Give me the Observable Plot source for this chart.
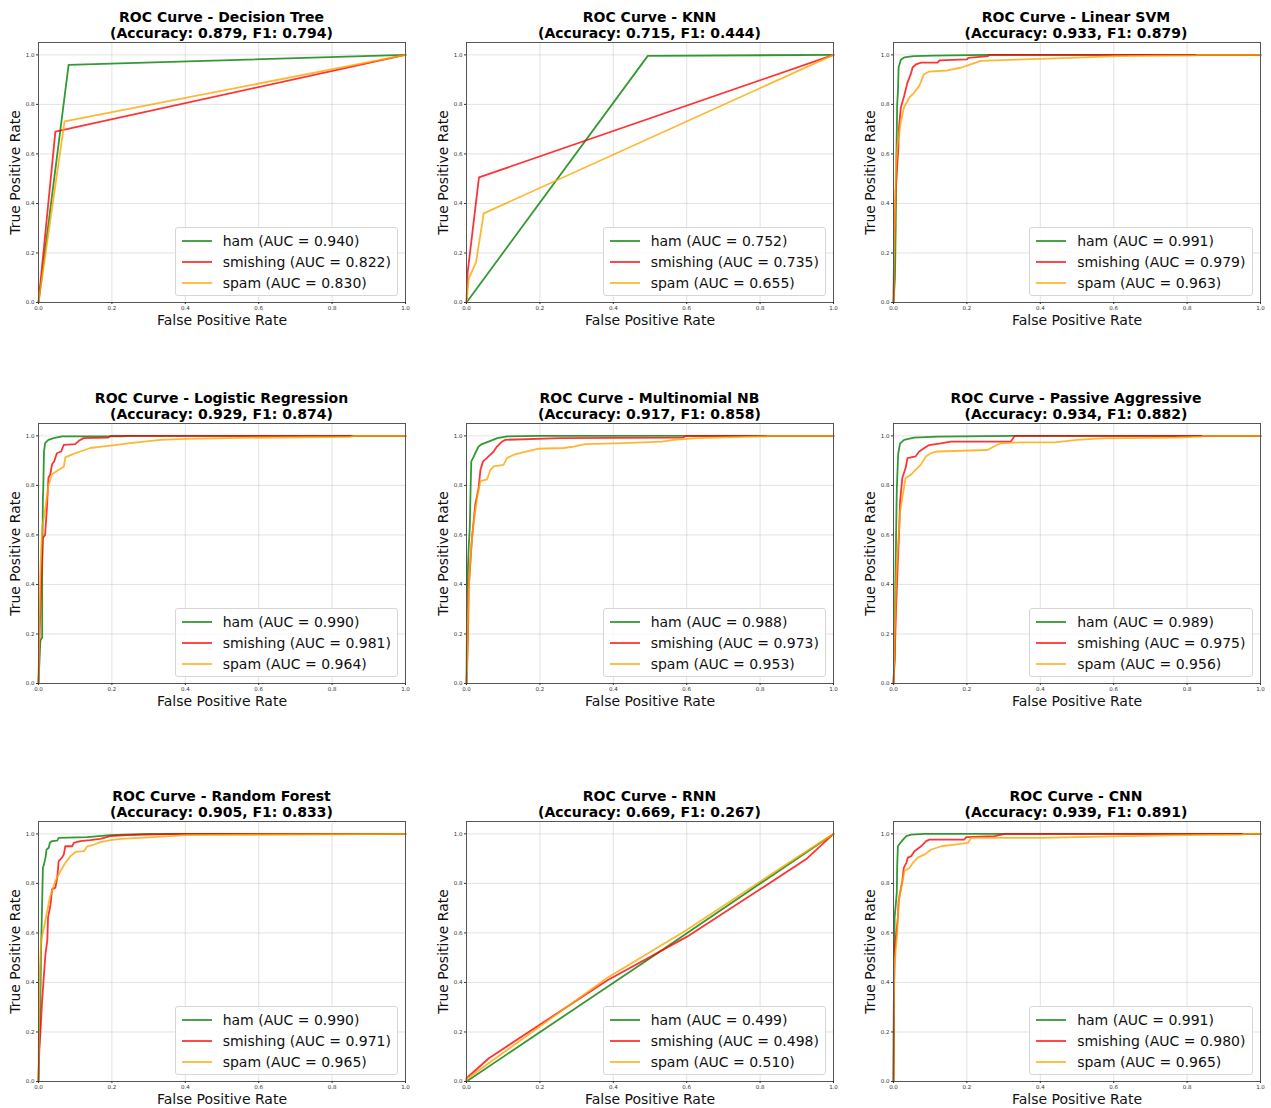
<!DOCTYPE html>
<html>
<head>
<meta charset="utf-8">
<script src="https://cdn.jsdelivr.net/npm/d3@7"></script>
<script src="https://cdn.jsdelivr.net/npm/@observablehq/plot@0.6"></script>
<style>
  html, body { margin: 0; padding: 0; background: #fff; overflow: hidden; }
  #root { position: relative; width: 1271px; height: 1108px; background: #fff; font-family: "DejaVu Sans", sans-serif; }
  .panel { position: absolute; }
  .title { position: absolute; text-align: center; font-weight: bold; font-size: 14px; line-height: 16px; color: #000; white-space: nowrap; }
  .legend { position: absolute; border: 1px solid #d6d6d6; border-radius: 3px; background: rgba(255,255,255,0.85); padding: 2px 6px 2px 6px; }
  .legend .row { display: flex; align-items: center; height: 21px; font-size: 14px; color: #111; white-space: nowrap; }
  .legend svg { margin-right: 11px; }
</style>
</head>
<body>
<div id="root"></div>
<script>
// ---------- data ----------
const models = ["Decision Tree", "KNN", "Linear SVM", "Logistic Regression", "Multinomial NB", "Passive Aggressive", "Random Forest", "RNN", "CNN"];
const accuracy = [0.879, 0.715, 0.933, 0.929, 0.917, 0.934, 0.905, 0.669, 0.939];
const f1 = [0.794, 0.444, 0.879, 0.874, 0.858, 0.882, 0.833, 0.267, 0.891];
const classes = ["ham", "smishing", "spam"];
const aucHam = [0.940, 0.752, 0.991, 0.990, 0.988, 0.989, 0.990, 0.499, 0.991];
const aucSmishing = [0.822, 0.735, 0.979, 0.981, 0.973, 0.975, 0.971, 0.498, 0.980];
const aucSpam = [0.830, 0.655, 0.963, 0.964, 0.953, 0.956, 0.965, 0.510, 0.965];
const tickValues = [0, 0.2, 0.4, 0.6, 0.8, 1.0];

// ROC points [fpr, tpr]
const dtHam = [[0,0],[0.082,0.96],[1,1]];
const dtSmishing = [[0,0],[0.046,0.69],[1,1]];
const dtSpam = [[0,0],[0.071,0.731],[1,1]];

const knnHam = [[0,0],[0.494,0.996],[1,1]];
const knnSmishing = [[0,0],[0.003,0.12],[0.034,0.505],[1,1]];
const knnSpam = [[0,0],[0.006,0.095],[0.026,0.163],[0.047,0.36],[1,1]];

const svmHam = [[0,0],[0.004,0.1],[0.006,0.31],[0.008,0.6],[0.01,0.8],[0.012,0.85],[0.014,0.95],[0.02,0.98],[0.03,0.99],[0.055,0.995],[0.11,0.997],[0.26,1],[1,1]];
const svmSmishing = [[0,0],[0.002,0.25],[0.006,0.45],[0.01,0.55],[0.013,0.62],[0.015,0.706],[0.02,0.787],[0.029,0.834],[0.038,0.888],[0.047,0.922],[0.052,0.949],[0.061,0.962],[0.075,0.969],[0.12,0.969],[0.125,0.978],[0.2,0.982],[0.204,0.988],[0.258,0.995],[0.26,1],[1,1]];
const svmSpam = [[0,0],[0.001,0.15],[0.004,0.35],[0.007,0.55],[0.011,0.638],[0.02,0.73],[0.029,0.79],[0.043,0.827],[0.056,0.847],[0.07,0.874],[0.083,0.922],[0.096,0.932],[0.146,0.937],[0.183,0.948],[0.21,0.962],[0.224,0.969],[0.237,0.976],[0.356,0.982],[0.483,0.988],[0.61,0.995],[0.824,0.998],[0.829,1],[1,1]];

const lrHam = [[0,0],[0.005,0.173],[0.01,0.186],[0.01,0.455],[0.012,0.75],[0.013,0.79],[0.015,0.937],[0.018,0.971],[0.027,0.984],[0.041,0.991],[0.064,0.998],[0.23,0.998],[0.24,1],[1,1]];
const lrSmishing = [[0,0],[0.003,0.2],[0.007,0.388],[0.012,0.588],[0.018,0.6],[0.023,0.71],[0.027,0.83],[0.032,0.845],[0.037,0.885],[0.043,0.898],[0.05,0.93],[0.062,0.937],[0.069,0.964],[0.1,0.967],[0.11,0.98],[0.123,0.991],[0.19,0.993],[0.196,1],[1,1]];
const lrSpam = [[0,0],[0.002,0.2],[0.005,0.45],[0.01,0.63],[0.018,0.7],[0.027,0.8],[0.037,0.845],[0.05,0.858],[0.069,0.875],[0.073,0.913],[0.096,0.927],[0.114,0.937],[0.141,0.951],[0.177,0.958],[0.214,0.964],[0.25,0.971],[0.332,0.984],[0.4,0.988],[0.55,0.992],[0.85,0.996],[0.86,1],[1,1]];

const mnbHam = [[0,0],[0.002,0.388],[0.004,0.47],[0.006,0.55],[0.009,0.63],[0.011,0.777],[0.013,0.897],[0.02,0.917],[0.024,0.931],[0.033,0.957],[0.042,0.967],[0.06,0.977],[0.084,0.991],[0.111,0.998],[0.2,1],[1,1]];
const mnbSmishing = [[0,0],[0.004,0.186],[0.006,0.388],[0.009,0.455],[0.015,0.588],[0.024,0.723],[0.033,0.79],[0.038,0.863],[0.045,0.897],[0.056,0.911],[0.065,0.924],[0.074,0.937],[0.083,0.957],[0.097,0.977],[0.106,0.984],[0.256,0.991],[0.59,0.993],[0.597,1],[1,1]];
const mnbSpam = [[0,0],[0.002,0.067],[0.004,0.253],[0.006,0.388],[0.013,0.55],[0.02,0.655],[0.029,0.75],[0.038,0.817],[0.056,0.824],[0.065,0.863],[0.074,0.877],[0.101,0.883],[0.11,0.91],[0.129,0.924],[0.165,0.937],[0.193,0.948],[0.265,0.951],[0.292,0.957],[0.324,0.967],[0.429,0.971],[0.533,0.977],[0.565,0.984],[0.628,0.991],[0.819,0.998],[0.82,1],[1,1]];

const paHam = [[0,0],[0.003,0.1],[0.005,0.4],[0.007,0.6],[0.009,0.783],[0.012,0.9],[0.013,0.93],[0.018,0.97],[0.029,0.984],[0.056,0.993],[0.12,0.997],[0.329,1],[1,1]];
const paSmishing = [[0,0],[0.003,0.1],[0.007,0.3],[0.012,0.5],[0.015,0.6],[0.018,0.736],[0.024,0.83],[0.033,0.87],[0.038,0.91],[0.06,0.917],[0.07,0.937],[0.083,0.95],[0.097,0.963],[0.129,0.97],[0.156,0.977],[0.32,0.977],[0.33,1],[1,1]];
const paSpam = [[0,0],[0.002,0.1],[0.005,0.3],[0.008,0.45],[0.012,0.55],[0.015,0.62],[0.018,0.695],[0.024,0.75],[0.033,0.83],[0.047,0.843],[0.06,0.863],[0.074,0.883],[0.088,0.917],[0.102,0.93],[0.12,0.937],[0.256,0.943],[0.274,0.957],[0.292,0.97],[0.347,0.974],[0.44,0.974],[0.5,0.984],[0.565,0.99],[0.77,0.993],[0.84,0.997],[0.845,1],[1,1]];

const rfHam = [[0,0],[0.003,0.194],[0.005,0.328],[0.007,0.528],[0.01,0.729],[0.012,0.863],[0.015,0.877],[0.019,0.904],[0.022,0.937],[0.028,0.944],[0.031,0.964],[0.037,0.971],[0.051,0.973],[0.055,0.984],[0.133,0.987],[0.196,0.995],[0.296,1],[1,1]];
const rfSmishing = [[0,0],[0.002,0.127],[0.005,0.194],[0.01,0.328],[0.015,0.435],[0.019,0.515],[0.024,0.569],[0.026,0.663],[0.033,0.716],[0.037,0.776],[0.046,0.783],[0.051,0.823],[0.055,0.89],[0.064,0.904],[0.069,0.917],[0.073,0.95],[0.092,0.95],[0.096,0.964],[0.114,0.971],[0.141,0.975],[0.168,0.98],[0.196,0.991],[0.24,0.995],[0.387,1],[1,1]];
const rfSpam = [[0,0],[0.001,0.194],[0.004,0.46],[0.007,0.569],[0.015,0.622],[0.024,0.69],[0.031,0.743],[0.037,0.77],[0.046,0.81],[0.06,0.85],[0.073,0.883],[0.087,0.91],[0.101,0.927],[0.124,0.93],[0.133,0.95],[0.151,0.957],[0.169,0.967],[0.196,0.975],[0.224,0.98],[0.315,0.987],[0.406,0.995],[1,1]];

const rnnHam = [[0,0],[0.5,0.498],[1,1]];
const rnnSmishing = [[0,0],[0,0.013],[0.061,0.094],[0.383,0.408],[0.601,0.585],[0.801,0.777],[0.928,0.901],[1,1]];
const rnnSpam = [[0,0],[0.003,0.012],[0.383,0.418],[0.6,0.612],[0.9,0.905],[1,1]];

const cnnHam = [[0,0],[0.001,0.194],[0.002,0.46],[0.003,0.663],[0.009,0.763],[0.01,0.87],[0.012,0.95],[0.019,0.964],[0.026,0.977],[0.035,0.991],[0.048,0.997],[0.085,1],[1,1]];
const cnnSmishing = [[0,0],[0.001,0.328],[0.003,0.528],[0.012,0.663],[0.014,0.729],[0.019,0.77],[0.024,0.81],[0.028,0.863],[0.035,0.883],[0.039,0.904],[0.048,0.91],[0.057,0.93],[0.075,0.95],[0.089,0.971],[0.098,0.977],[0.193,0.977],[0.198,0.987],[0.276,0.991],[0.294,0.997],[0.303,1],[1,1]];
const cnnSpam = [[0,0],[0,0.194],[0.002,0.46],[0.01,0.596],[0.014,0.729],[0.021,0.783],[0.03,0.85],[0.044,0.863],[0.053,0.883],[0.066,0.904],[0.085,0.917],[0.103,0.937],[0.13,0.95],[0.166,0.957],[0.203,0.964],[0.212,0.984],[0.402,0.984],[0.638,0.991],[0.802,0.995],[0.95,0.997],[0.955,1],[1,1]];

const curves = [
  [dtHam, dtSmishing, dtSpam],
  [knnHam, knnSmishing, knnSpam],
  [svmHam, svmSmishing, svmSpam],
  [lrHam, lrSmishing, lrSpam],
  [mnbHam, mnbSmishing, mnbSpam],
  [paHam, paSmishing, paSpam],
  [rfHam, rfSmishing, rfSpam],
  [rnnHam, rnnSmishing, rnnSpam],
  [cnnHam, cnnSmishing, cnnSpam]
];
const colors = ["green", "red", "orange"];

// ---------- layout ----------
const colLeft = [38, 466, 892.5];
const rowTop = [42, 423, 821];
const plotW = 367, plotH = 260;
const mL = 40, mR = 6, mT = 4, mB = 40;
const root = document.getElementById("root");
const fmt = d3.format(".3f");

models.forEach((name, i) => {
  const col = i % 3, row = Math.floor(i / 3);
  const Lx = colLeft[col], Ty = rowTop[row];
  const rows = [];
  curves[i].forEach((pts, k) => pts.forEach(([x, y]) => rows.push({fpr: x, tpr: y, cls: classes[k]})));

  const chart = Plot.plot({
    width: mL + plotW + mR,
    height: mT + plotH + mB,
    marginLeft: mL, marginRight: mR, marginTop: mT, marginBottom: mB,
    style: {fontFamily: "DejaVu Sans, sans-serif", background: "transparent", overflow: "visible"},
    x: {domain: [0, 1]},
    y: {domain: [0, 1.05]},
    color: {domain: classes, range: colors},
    marks: [
      Plot.gridX({ticks: tickValues, stroke: "#b0b0b0", strokeOpacity: 0.35}),
      Plot.gridY({ticks: tickValues, stroke: "#b0b0b0", strokeOpacity: 0.35}),
      Plot.line(rows, {x: "fpr", y: "tpr", z: "cls", stroke: "cls", strokeWidth: 1.8, strokeOpacity: 0.8, curve: "linear"}),
      Plot.frame({stroke: "#555", strokeWidth: 1}),
      Plot.axisX({ticks: tickValues, tickFormat: d3.format(".1f"), tickSize: 2, tickPadding: 2, fontSize: 5.5, label: null, color: "#333"}),
      Plot.axisY({ticks: tickValues, tickFormat: d3.format(".1f"), tickSize: 2, tickPadding: 2, fontSize: 5.5, label: null, color: "#333"}),
      Plot.text(["False Positive Rate"], {frameAnchor: "bottom", lineAnchor: "middle", textAnchor: "middle", dy: 18, fontSize: 14, fill: "#111"}),
      Plot.text(["True Positive Rate"], {frameAnchor: "left", lineAnchor: "middle", textAnchor: "middle", dx: -23, rotate: -90, fontSize: 14, fill: "#111"})
    ]
  });
  const wrap = document.createElement("div");
  wrap.className = "panel";
  wrap.style.left = (Lx - mL) + "px";
  wrap.style.top = (Ty - mT) + "px";
  wrap.appendChild(chart);
  root.appendChild(wrap);

  const title = document.createElement("div");
  title.className = "title";
  title.style.left = Lx + "px";
  title.style.width = plotW + "px";
  title.style.top = (Ty - 33) + "px";
  title.innerHTML = `ROC Curve - ${name}<br>(Accuracy: ${fmt(accuracy[i])}, F1: ${fmt(f1[i])})`;
  root.appendChild(title);

  const aucs = [aucHam[i], aucSmishing[i], aucSpam[i]];
  const leg = document.createElement("div");
  leg.className = "legend";
  leg.style.right = (1271 - (Lx + plotW - 7)) + "px";
  leg.style.top = (Ty + 185) + "px";
  classes.forEach((c, k) => {
    const r = document.createElement("div");
    r.className = "row";
    r.innerHTML = `<svg width="30" height="4"><line x1="0" y1="2" x2="30" y2="2" stroke="${colors[k]}" stroke-opacity="0.8" stroke-width="1.8"/></svg><span>${c} (AUC = ${fmt(aucs[k])})</span>`;
    leg.appendChild(r);
  });
  root.appendChild(leg);
});
</script>
</body>
</html>
